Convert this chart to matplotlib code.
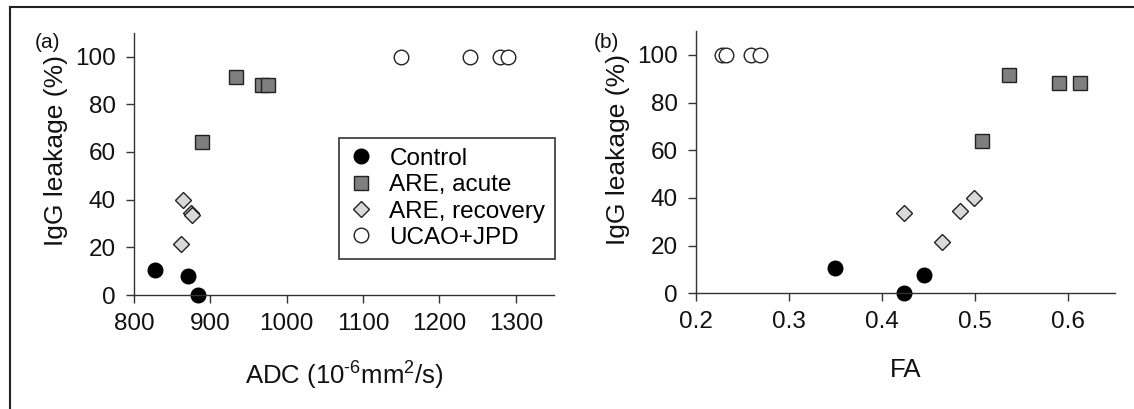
import matplotlib
matplotlib.use("Agg")
import matplotlib.pyplot as plt
from matplotlib.lines import Line2D

plt.rcParams['font.family'] = ['Liberation Sans', 'DejaVu Sans']
plt.rcParams['mathtext.fontset'] = 'custom'
plt.rcParams['mathtext.rm'] = 'Liberation Sans'
plt.rcParams['mathtext.it'] = 'Liberation Sans:italic'
plt.rcParams['mathtext.bf'] = 'Liberation Sans:bold'
plt.rcParams['mathtext.default'] = 'regular'

# data
control_igg = [10.5, 7.8, 0]
control_adc = [827, 871, 884]
control_fa = [0.349, 0.445, 0.424]

acute_igg = [91.5, 88, 88, 64]
acute_adc = [933, 967, 976, 889]
acute_fa = [0.537, 0.590, 0.613, 0.508]

recov_igg = [40, 34.5, 33.5, 21.5]
recov_adc = [864, 874, 876, 862]
recov_fa = [0.499, 0.484, 0.424, 0.464]

ucao_igg = [100, 100, 100, 100]
ucao_adc = [1150, 1240, 1279, 1290]
ucao_fa = [0.228, 0.232, 0.259, 0.269]

W, H = 1134, 409
fig = plt.figure(figsize=(W / 100, H / 100), dpi=100)

# axes rectangles from pixel positions
ax1 = fig.add_axes([134 / W, 1 - 295 / H, 420 / W, 262.3 / H])
ax2 = fig.add_axes([696 / W, 1 - 293.3 / H, 418.5 / W, 262.3 / H])

ec = '#222222'
styles = dict(
    control=dict(marker='o', ms=10.5, mfc='black', mec='black', mew=1),
    acute=dict(marker='s', ms=10.5, mfc='#7f7f7f', mec=ec, mew=1),
    recov=dict(marker='D', ms=8.5, mfc='#d9d9d9', mec=ec, mew=1),
    ucao=dict(marker='o', ms=10.5, mfc='white', mec=ec, mew=1),
)

for ax, xs in ((ax1, (control_adc, acute_adc, recov_adc, ucao_adc)),
               (ax2, (control_fa, acute_fa, recov_fa, ucao_fa))):
    ax.plot(xs[3], ucao_igg, ls='none', clip_on=False, label='UCAO+JPD', **styles['ucao'])
    ax.plot(xs[2], recov_igg, ls='none', clip_on=False, label='ARE, recovery', **styles['recov'])
    ax.plot(xs[1], acute_igg, ls='none', clip_on=False, label='ARE, acute', **styles['acute'])
    ax.plot(xs[0], control_igg, ls='none', clip_on=False, label='Control', **styles['control'])
    ax.set_ylim(0, 110)
    ax.set_yticks([0, 20, 40, 60, 80, 100])
    for s in ('top', 'right'):
        ax.spines[s].set_visible(False)
    for s in ('left', 'bottom'):
        ax.spines[s].set_color('#333333')
        ax.spines[s].set_linewidth(1.0)
    ax.tick_params(direction='out', length=6, width=1, color='#333333',
                   labelsize=17.5, pad=7, labelcolor='#111111')
    ax.set_ylabel('IgG leakage (%)', fontsize=19, labelpad=5, color='#111111', y=0.55)

ax1.set_xlim(800, 1350)
ax1.set_xticks([800, 900, 1000, 1100, 1200, 1300])
ax1.set_xlabel(r'ADC (10$^{\text{-}6}$mm$^{2}$/s)', fontsize=18.5, labelpad=18, color='#111111')

ax2.set_xlim(0.2, 0.65)
ax2.set_xticks([0.2, 0.3, 0.4, 0.5, 0.6])
ax2.set_xticklabels(['0.2', '0.3', '0.4', '0.5', '0.6'])
ax2.set_xlabel('FA', fontsize=18.5, labelpad=18, color='#111111')

# legend in the order Control, acute, recovery, UCAO
h, l = ax1.get_legend_handles_labels()
leg = ax1.legend(h[::-1], l[::-1], loc='upper right',
                 bbox_to_anchor=(555 / W, 1 - 138 / H), bbox_transform=fig.transFigure,
                 fontsize=17.5, frameon=True, fancybox=False, framealpha=1,
                 borderaxespad=0, borderpad=0.4, labelspacing=0.18,
                 handlelength=1.0, handletextpad=0.65)
leg.get_frame().set_edgecolor('#333333')
leg.get_frame().set_linewidth(1.2)

fig.text(47 / W, 1 - 42 / H, '(a)', fontsize=15, ha='center', va='center', color='#111111')
fig.text(606 / W, 1 - 42 / H, '(b)', fontsize=15, ha='center', va='center', color='#111111')

# frame lines at top and left of the image
fig.add_artist(Line2D([10 / W, 10 / W], [0, 1 - 7 / H], transform=fig.transFigure,
                      color='#222222', lw=1.5))
fig.add_artist(Line2D([10 / W, 1], [1 - 7 / H, 1 - 7 / H], transform=fig.transFigure,
                      color='#222222', lw=1.5))

fig.savefig('out.png', dpi=100)
